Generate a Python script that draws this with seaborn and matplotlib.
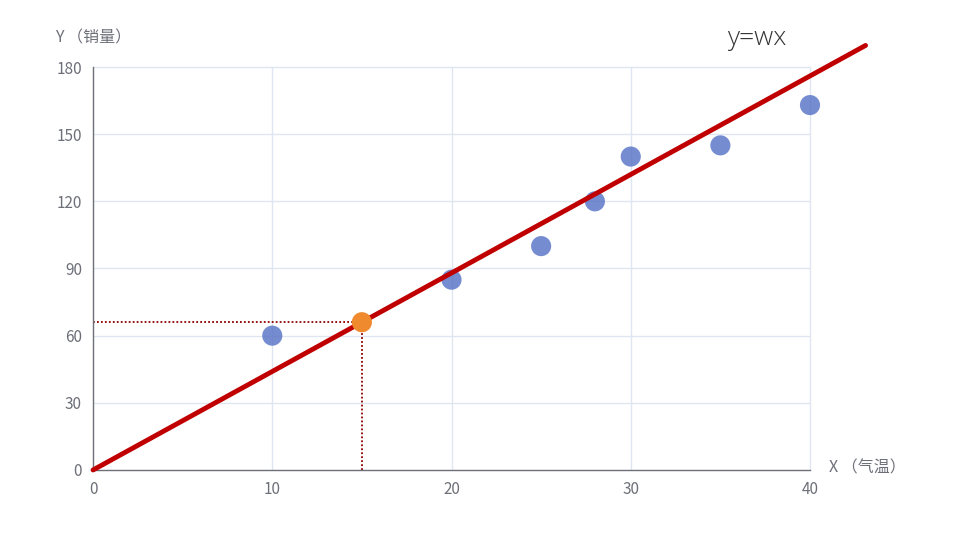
import matplotlib
matplotlib.use("Agg")
import matplotlib.pyplot as plt
import seaborn as sns
import numpy as np
import pandas as pd

# data
temps = [10, 20, 25, 28, 30, 35, 40]
sales = [60, 85, 100, 120, 140, 145, 163]
w = 4.4
line_x = [0, 43.1]
query_x = 15
x_ticks = [0, 10, 20, 30, 40]
y_ticks = [0, 30, 60, 90, 120, 150, 180]

sns.set_style("white")
plt.rcParams['font.family'] = ['Noto Sans CJK SC', 'DejaVu Sans']

fig = plt.figure(figsize=(9.6, 5.34), dpi=100)
ax = fig.add_axes([0.0969, 0.1199, 0.84375 - 0.0969, 0.8745 - 0.1199])

df = pd.DataFrame({'x': temps, 'y': sales})
line_df = pd.DataFrame({'x': line_x, 'y': [w * v for v in line_x]})
query_y = w * query_x

# grid
for t in x_ticks[1:]:
    ax.axvline(t, color='#e0e6f1', lw=1, zorder=0)
for t in y_ticks[1:]:
    ax.axhline(t, color='#e0e6f1', lw=1, zorder=0)

sns.scatterplot(data=df, x='x', y='y', ax=ax, s=210, color='#5470c6', alpha=0.8,
                edgecolor='none', zorder=3)
sns.lineplot(data=line_df, x='x', y='y', ax=ax, color='#c00000', lw=3.5, zorder=4)

# dotted guides
ax.plot([0, query_x], [query_y, query_y], color='#8b0000', lw=1.3, ls=(0, (1, 1.2)), zorder=2)
ax.plot([query_x, query_x], [0, query_y], color='#8b0000', lw=1.3, ls=(0, (1, 1.2)), zorder=2)
ax.scatter([query_x], [query_y], s=210, color='#f08a2e', zorder=5, edgecolors='none')

for a in ax.lines + ax.collections:
    a.set_clip_on(False)

ax.set_xlim(0, 40)
ax.set_ylim(0, 180)
ax.set_xticks(x_ticks)
ax.set_yticks(y_ticks)
ax.set_xlabel('')
ax.set_ylabel('')
for s in ['top', 'right']:
    ax.spines[s].set_visible(False)
for s in ['left', 'bottom']:
    ax.spines[s].set_color('#6e7079')
    ax.spines[s].set_linewidth(1)
ax.tick_params(axis='both', colors='#6e7079', labelcolor='#6e7079', labelsize=11,
               length=5, width=1, direction='out', pad=3)

fig.text(0.057, 0.928, 'Y （销量）', fontsize=11.5, color='#6e7079', va='center', ha='left')
fig.text(0.864, 0.123, 'X （气温）', fontsize=11.5, color='#6e7079', va='center', ha='left')
fig.text(0.757, 0.928, 'y=wx', fontsize=19, color='#333333', va='center', ha='left',
         family=['Open Sans', 'DejaVu Sans'], fontweight='light')

fig.savefig('out.png', dpi=100)
